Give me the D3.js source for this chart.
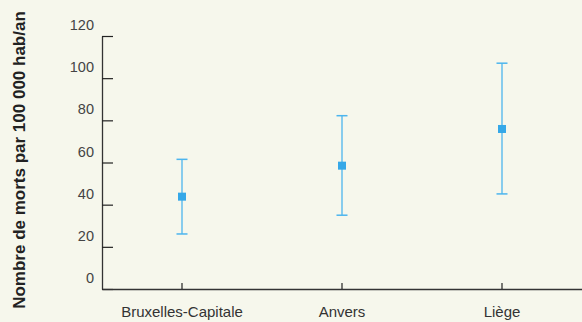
<!DOCTYPE html>
<html>
<head>
<meta charset="utf-8">
<script src="https://cdn.jsdelivr.net/npm/d3@7"></script>
<style>
  body { margin: 0; background: #f6f7ec; }
  svg { display: block; font-family: "Liberation Sans", Arial, sans-serif; }
</style>
</head>
<body>
<div id="chart"></div>
<script>
const regions = ["Bruxelles-Capitale", "Anvers", "Liège"];
const rates = [43.8, 58.5, 75.9];
const lowers = [26.1, 35.0, 45.1];
const uppers = [61.5, 82.2, 107.1];
const yTicks = [0, 20, 40, 60, 80, 100, 120];

const width = 582, height = 322;
const margin = { top: 36, right: 0, bottom: 33, left: 102 };

let svg = d3.select("#chart")
    .append("svg")
    .attr("width", width)
    .attr("height", height);

svg.append("rect")
    .attr("width", width)
    .attr("height", height)
    .attr("fill", "#f6f7ec");

let x = d3.scaleBand()
    .domain(regions)
    .range([margin.left, width - margin.right]);

let y = d3.scaleLinear()
    .domain([0, 120])
    .range([height - margin.bottom, margin.top]);

let data = regions.map((r, i) => ({ name: r, v: rates[i], lo: lowers[i], hi: uppers[i] }));

// y axis: ticks point inwards, labels sit above each tick
let yAxis = svg.append("g")
    .attr("transform", `translate(${margin.left},0)`)
    .call(d3.axisRight(y).tickValues(yTicks).tickSize(11).tickSizeOuter(0).tickFormat(""));
yAxis.select(".domain").attr("stroke", "#333").attr("stroke-width", 1.3);
yAxis.selectAll(".tick line").attr("stroke", "#222").attr("stroke-width", 1.2);

svg.append("g").selectAll("text")
    .data(yTicks)
    .enter()
    .append("text")
    .attr("x", margin.left - 8)
    .attr("y", d => y(d) - 6)
    .style("text-anchor", "end")
    .style("font-size", "14.5px")
    .attr("fill", "#444")
    .text(d => d);

// x axis
let xAxis = svg.append("g")
    .attr("transform", `translate(0,${y(0)})`)
    .call(d3.axisTop(x).tickSize(6).tickSizeOuter(0).tickFormat(""));
xAxis.select(".domain").attr("stroke", "#333").attr("stroke-width", 1.3);
xAxis.selectAll(".tick line").attr("stroke", "#222").attr("stroke-width", 1.2);

svg.append("g").selectAll("text")
    .data(regions)
    .enter()
    .append("text")
    .attr("x", d => x(d) + x.bandwidth() / 2)
    .attr("y", y(0) + 28)
    .style("text-anchor", "middle")
    .style("font-size", "15px")
    .attr("fill", "#333")
    .text(d => d);

// axis title
svg.append("text")
    .attr("transform", `translate(25, ${height / 2 - 1}) rotate(-90)`)
    .style("text-anchor", "middle")
    .style("font-size", "17px")
    .style("font-weight", "bold")
    .attr("fill", "#222")
    .text("Nombre de morts par 100 000 hab/an");

// error bars
let cx = d => x(d.name) + x.bandwidth() / 2;
let bars = svg.append("g").selectAll("g")
    .data(data)
    .enter()
    .append("g");

bars.append("line")
    .attr("x1", cx).attr("x2", cx)
    .attr("y1", d => y(d.lo)).attr("y2", d => y(d.hi))
    .attr("stroke", "#4cb5ee")
    .attr("stroke-width", 1.3);

bars.append("line")
    .attr("x1", d => cx(d) - 5.5).attr("x2", d => cx(d) + 5.5)
    .attr("y1", d => y(d.hi)).attr("y2", d => y(d.hi))
    .attr("stroke", "#4cb5ee")
    .attr("stroke-width", 1.5);

bars.append("line")
    .attr("x1", d => cx(d) - 5.5).attr("x2", d => cx(d) + 5.5)
    .attr("y1", d => y(d.lo)).attr("y2", d => y(d.lo))
    .attr("stroke", "#4cb5ee")
    .attr("stroke-width", 1.5);

bars.append("rect")
    .attr("x", d => cx(d) - 4)
    .attr("y", d => y(d.v) - 4)
    .attr("width", 8)
    .attr("height", 8)
    .attr("fill", "#35a8e8");
</script>
</body>
</html>
